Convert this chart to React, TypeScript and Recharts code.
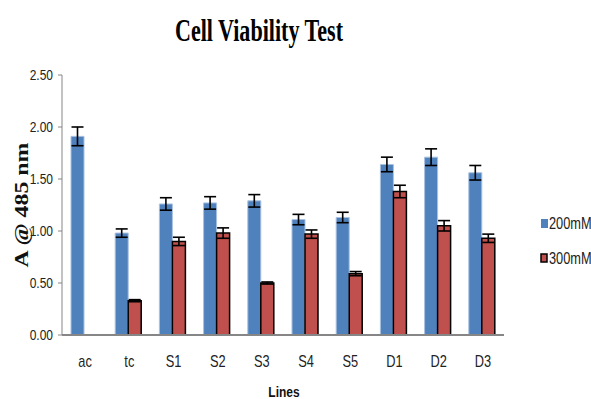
import React from "react";
import { BarChart, Bar, XAxis, YAxis, ErrorBar, Customized } from "recharts";

const lines = ["ac", "tc", "S1", "S2", "S3", "S4", "S5", "D1", "D2", "D3"];
const mean200 = [1.91, 0.98, 1.26, 1.27, 1.29, 1.11, 1.13, 1.64, 1.71, 1.56];
const err200 = [0.09, 0.04, 0.06, 0.06, 0.06, 0.05, 0.05, 0.07, 0.08, 0.07];
const mean300 = [null, 0.33, 0.9, 0.98, 0.5, 0.97, 0.59, 1.38, 1.05, 0.93];
const err300 = [0, 0.01, 0.04, 0.05, 0.01, 0.04, 0.02, 0.06, 0.05, 0.04];
const yTicks = [0, 0.5, 1, 1.5, 2, 2.5];

const BLUE = "#4F81BD";
const RED = "#C0504D";
const sans = "'Liberation Sans', Arial, sans-serif";
const NARROW = 0.8; // squeeze for the condensed look of the original labels

const data = lines.map((name, i) => ({
  name,
  a: mean200[i],
  aErr: err200[i],
  b: mean300[i],
  bErr: err300[i],
}));

function YTick(props: any) {
  const { x, y, payload } = props;
  return (
    <text
      transform={`translate(${x - 1},${y + 5}) scale(${NARROW},1)`}
      textAnchor="end"
      fontFamily={sans}
      fontSize={15}
      fill="#222"
    >
      {Number(payload.value).toFixed(2)}
    </text>
  );
}

function XTick(props: any) {
  const { x, y, payload } = props;
  return (
    <text
      transform={`translate(${x + 1},${y + 24}) scale(${NARROW},1)`}
      textAnchor="middle"
      fontFamily={sans}
      fontSize={16}
      fill="#222"
    >
      {payload.value}
    </text>
  );
}

function Labels() {
  return (
    <g>
      <text
        x={259}
        y={41}
        textAnchor="middle"
        fontFamily="'Liberation Serif', serif"
        fontWeight="bold"
        fontSize={32}
        textLength={168}
        lengthAdjust="spacingAndGlyphs"
        fill="#000"
      >
        Cell Viability Test
      </text>
      <text
        transform="translate(28,205) rotate(-90)"
        textAnchor="middle"
        fontFamily="'Liberation Serif', serif"
        fontWeight="bold"
        fontSize={19}
        textLength={125}
        lengthAdjust="spacingAndGlyphs"
        fill="#111"
      >
        A @ 485 nm
      </text>
      <text
        transform={`translate(284,397) scale(${NARROW},1)`}
        textAnchor="middle"
        fontFamily={sans}
        fontWeight="bold"
        fontSize={15}
        fill="#111"
      >
        Lines
      </text>
    </g>
  );
}

function LegendBox() {
  return (
    <svg width={60} height={60} style={{ position: "absolute", left: 536, top: 212 }}>
      <rect x={5} y={7} width={7} height={9} fill={BLUE} />
      <text transform={`translate(13,17) scale(${NARROW},1)`} fontFamily={sans} fontSize={16} fill="#222">
        200mM
      </text>
      <rect x={5} y={42} width={6} height={8} fill={RED} stroke="#000" strokeWidth={1.5} />
      <text transform={`translate(13,52) scale(${NARROW},1)`} fontFamily={sans} fontSize={16} fill="#222">
        300mM
      </text>
    </svg>
  );
}

export default function App() {
  return (
    <div style={{ position: "absolute", left: 0, top: 0, width: 591, height: 399, background: "#fff" }}>
      <BarChart
        width={591}
        height={399}
        data={data}
        margin={{ top: 75, right: 87, bottom: 34, left: 0 }}
        barGap={0}
        barSize={13}
      >
        <YAxis
          width={62}
          domain={[0, 2.5]}
          ticks={yTicks}
          interval={0}
          tick={<YTick />}
          tickSize={4}
          tickMargin={4}
          stroke="#868686"
        />
        <XAxis
          dataKey="name"
          height={30}
          tickLine={false}
          stroke="#868686"
          strokeWidth={2}
          tick={<XTick />}
        />
        <Bar dataKey="a" name="200mM" fill={BLUE} stroke="#A9C1E0" strokeWidth={1} isAnimationActive={false}>
          <ErrorBar dataKey="aErr" width={6} stroke="#000" strokeWidth={1.6} />
        </Bar>
        <Bar dataKey="b" name="300mM" fill={RED} stroke="#000" strokeWidth={1.5} isAnimationActive={false}>
          <ErrorBar dataKey="bErr" width={6} stroke="#000" strokeWidth={1.6} />
        </Bar>
        <Customized component={<Labels />} />
      </BarChart>
      <LegendBox />
    </div>
  );
}
